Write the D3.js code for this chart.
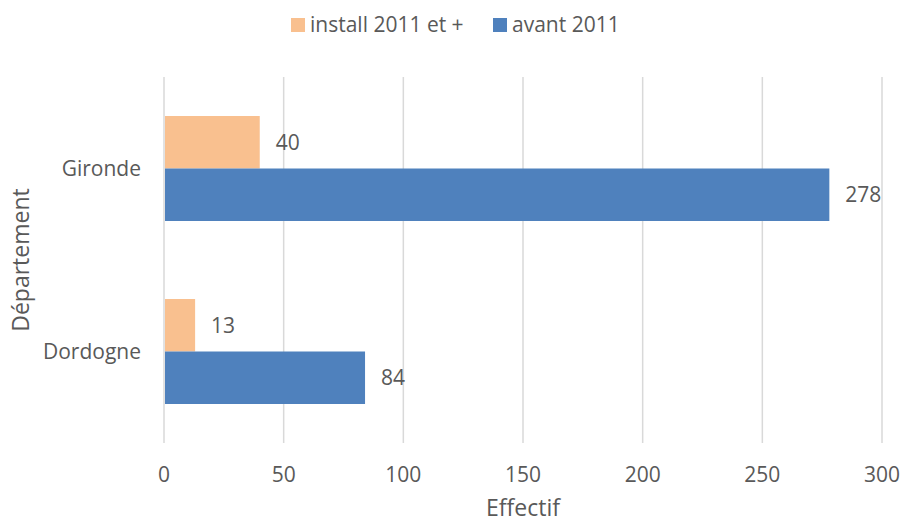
<!DOCTYPE html>
<html>
<head>
<meta charset="utf-8">
<script src="https://cdn.jsdelivr.net/npm/d3@7"></script>
<style>
  body { margin: 0; background: #fff; }
  text { font-family: "Open Sans", sans-serif; fill: #595959; }
</style>
</head>
<body>
<svg id="chart" width="903" height="522"></svg>
<script>
// chart data
const departements = ["Gironde", "Dordogne"];
const seriesNames = ["install 2011 et +", "avant 2011"];
const install2011 = [40, 13];
const avant2011 = [278, 84];
const xTicks = [0, 50, 100, 150, 200, 250, 300];
const colours = ["#F9C08F", "#4F81BD"];

const margin = { top: 77, right: 21, bottom: 79, left: 164 };
const width = 903 - margin.left - margin.right;
const height = 522 - margin.top - margin.bottom;

const svg = d3.select("#chart");
const chart = svg.append("g")
  .attr("transform", `translate(${margin.left},${margin.top})`);

const rows = departements.map((d, i) => ({ dep: d, values: [install2011[i], avant2011[i]] }));

const xScale = d3.scaleLinear().domain([0, 300]).range([0, width]);
const yScale = d3.scaleBand().domain(departements).range([0, height]);
// two bars per category, with Excel-like gap around the pair
const inner = d3.scaleBand().domain([0, 1]).range([39, yScale.bandwidth() - 39]);

// gridlines
chart.selectAll("line.grid")
  .data(xTicks)
  .join("line")
    .attr("class", "grid")
    .attr("x1", d => xScale(d)).attr("x2", d => xScale(d))
    .attr("y1", 0).attr("y2", height)
    .attr("stroke", "#d9d9d9").attr("stroke-width", 1.5);

// bars
const groups = chart.selectAll("g.dep")
  .data(rows)
  .join("g")
    .attr("class", "dep")
    .attr("transform", d => `translate(0,${yScale(d.dep)})`);

groups.selectAll("rect")
  .data(d => d.values)
  .join("rect")
    .attr("x", xScale(0) + 1)
    .attr("y", (d, i) => inner(i))
    .attr("width", d => xScale(d) - xScale(0) - 1)
    .attr("height", inner.bandwidth())
    .attr("fill", (d, i) => colours[i]);

// value labels
groups.selectAll("text.val")
  .data(d => d.values)
  .join("text")
    .attr("class", "val")
    .attr("x", d => xScale(d) + 16)
    .attr("y", (d, i) => inner(i) + inner.bandwidth() / 2)
    .attr("dy", "0.35em")
    .style("font-size", "21px")
    .text(d => d);

// x tick labels
chart.selectAll("text.xtick")
  .data(xTicks)
  .join("text")
    .attr("class", "xtick")
    .attr("x", d => xScale(d))
    .attr("y", height + 32)
    .attr("dy", "0.35em")
    .attr("text-anchor", "middle")
    .style("font-size", "21px")
    .text(d => d);

// category labels
chart.selectAll("text.cat")
  .data(departements)
  .join("text")
    .attr("class", "cat")
    .attr("x", -23)
    .attr("y", d => yScale(d) + yScale.bandwidth() / 2)
    .attr("dy", "0.35em")
    .attr("text-anchor", "end")
    .style("font-size", "21px")
    .text(d => d);

// axis titles
svg.append("text")
  .attr("x", margin.left + width / 2)
  .attr("y", 516)
  .attr("text-anchor", "middle")
  .style("font-size", "23px")
  .text("Effectif");

svg.append("text")
  .attr("transform", `translate(21,${margin.top + height / 2}) rotate(-90)`)
  .attr("dy", "0.35em")
  .attr("text-anchor", "middle")
  .style("font-size", "23px")
  .text("Département");

// legend
const legendX = [291, 493];
const legend = svg.selectAll("g.legend")
  .data(seriesNames)
  .join("g")
    .attr("class", "legend")
    .attr("transform", (d, i) => `translate(${legendX[i]},18)`);

legend.append("rect")
  .attr("width", 14).attr("height", 14)
  .attr("fill", (d, i) => colours[i]);

legend.append("text")
  .attr("x", 19)
  .attr("y", 7)
  .attr("dy", "0.35em")
  .style("font-size", "21px")
  .text(d => d);
</script>
</body>
</html>
